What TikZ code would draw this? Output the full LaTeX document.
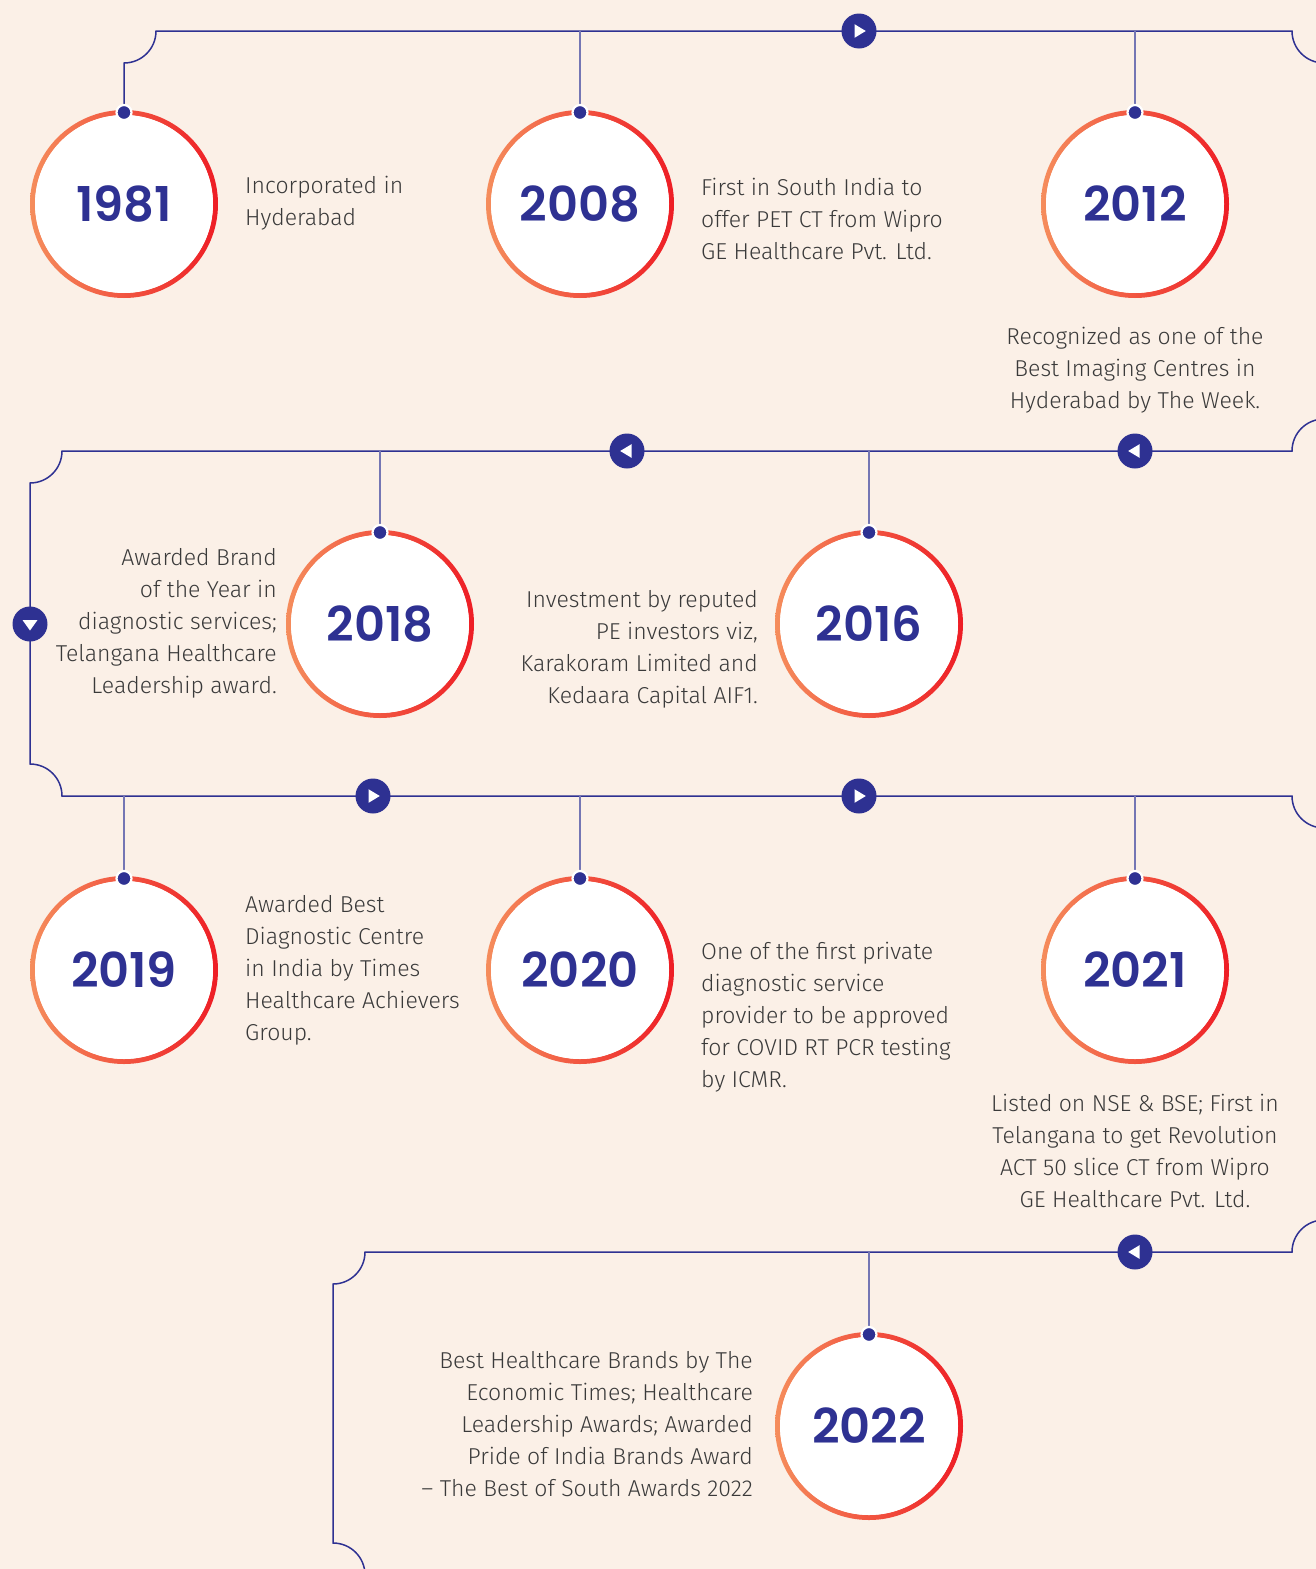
\documentclass[tikz,border=0pt]{standalone}
\usepackage{fontspec}
\setmainfont{Fira Sans Light}
\newfontfamily\yearfont{Poppins SemiBold}
\definecolor{bg}{HTML}{FBF0E7}
\definecolor{navy}{HTML}{2E3192}
\definecolor{stemc}{HTML}{7476B4}
\definecolor{ringL}{HTML}{F58D5C}
\definecolor{ringR}{HTML}{EE1D25}
\definecolor{txt}{HTML}{3A3A3A}
\tikzset{
  mainline/.style={draw=navy, line width=1.5pt},
  stemline/.style={draw=stemc, line width=1.4pt},
  yearnode/.style={circle, fill=white, minimum size=178pt, inner sep=0pt,
    text=navy, font=\yearfont\fontsize{48}{48}\selectfont},
  ringdot/.style={circle, fill=navy, draw=white, line width=2.2pt, minimum size=15pt, inner sep=0pt},
  btn/.style={circle, fill=navy, minimum size=35pt, inner sep=0pt},
  desc/.style={inner sep=0pt, text=txt, font=\fontsize{23}{32}\selectfont},
}
\newcommand\yearcirc[4]{%
  \shade[left color=ringL, right color=ringR, even odd rule]
    (#2,#3) circle[radius=94pt] (#2,#3) circle[radius=89pt];
  \node[yearnode] (#1) at (#2,#3) {#4};
}
\begin{document}
\begin{tikzpicture}[x=1pt,y=-1pt]
\fill[bg] (0,0) rectangle (1316,1569);
\useasboundingbox (0,0) rectangle (1316,1569);

% year circles
\yearcirc{y1981}{124}{204}{1981}
\yearcirc{y2008}{580}{204}{2008}
\yearcirc{y2012}{1135}{204}{2012}
\yearcirc{y2018}{380}{624}{2018}
\yearcirc{y2016}{869}{624}{2016}
\yearcirc{y2019}{124}{970}{2019}
\yearcirc{y2020}{580}{970}{2020}
\yearcirc{y2021}{1135}{970}{2021}
\yearcirc{y2022}{869}{1426}{2022}

% dots on the rings
\foreach \n in {1981,2008,2012,2018,2016,2019,2020,2021,2022}
  \coordinate (p\n) at ([yshift=91.5pt]y\n.center);

% coordinates on the main line
\coordinate (c1) at (124,63);
\coordinate (c2) at (156,31);
\coordinate (c3) at (1292,31);
\coordinate (c4) at (1324,63);
\coordinate (c5) at (1324,419);
\coordinate (c6) at (1292,451);
\coordinate (c7) at (62,451);
\coordinate (c8) at (30,483);
\coordinate (c9) at (30,764);
\coordinate (c10) at (62,796);
\coordinate (c11) at (1292,796);
\coordinate (c12) at (1324,828);
\coordinate (c13) at (1324,1220);
\coordinate (c14) at (1292,1252);
\coordinate (c15) at (365,1252);
\coordinate (c16) at (333,1284);
\coordinate (c17) at (333,1543);
\coordinate (c18) at (365,1575);

% main line
\draw[mainline] (p1981) -- (c1) .. controls (141.7,63) and (156,48.7) .. (c2)
  -- (c3) .. controls (1292,48.7) and (1306.3,63) .. (c4)
  -- (c5) .. controls (1306.3,419) and (1292,433.3) .. (c6)
  -- (c7) .. controls (62,468.7) and (47.7,483) .. (c8)
  -- (c9) .. controls (47.7,764) and (62,778.3) .. (c10)
  -- (c11) .. controls (1292,813.7) and (1306.3,828) .. (c12)
  -- (c13) .. controls (1306.3,1220) and (1292,1234.3) .. (c14)
  -- (c15) .. controls (365,1269.7) and (350.7,1284) .. (c16)
  -- (c17) .. controls (350.7,1543) and (365,1557.3) .. (c18);

% stems
\coordinate (s2008) at (580,31);
\coordinate (s2012) at (1135,31);
\coordinate (s2018) at (380,451);
\coordinate (s2016) at (869,451);
\coordinate (s2019) at (124,796);
\coordinate (s2020) at (580,796);
\coordinate (s2021) at (1135,796);
\coordinate (s2022) at (869,1252);
\foreach \n in {2008,2012,2018,2016,2019,2020,2021,2022}
  \draw[stemline] (s\n) -- (p\n);

\foreach \n in {1981,2008,2012,2018,2016,2019,2020,2021,2022}
  \node[ringdot] (d\n) at (p\n) {};

% direction buttons
\node[btn] (b1) at (859,31) {};
\node[btn] (b2) at (1135,451) {};
\node[btn] (b3) at (627,451) {};
\node[btn] (b4) at (30,624) {};
\node[btn] (b5) at (373,796) {};
\node[btn] (b6) at (859,796) {};
\node[btn] (b7) at (1135,1252) {};
\foreach \b in {b1,b5,b6}
  \fill[white] ([shift={(-4.5,-6.8)}]\b.center) -- ([shift={(-4.5,6.8)}]\b.center) -- ([shift={(6.8,0)}]\b.center) -- cycle;
\foreach \b in {b2,b3,b7}
  \fill[white] ([shift={(4.5,-6.8)}]\b.center) -- ([shift={(4.5,6.8)}]\b.center) -- ([shift={(-6.8,0)}]\b.center) -- cycle;
\fill[white] ([shift={(-7.5,-4)}]b4.center) -- ([shift={(7.5,-4)}]b4.center) -- ([shift={(0,6.5)}]b4.center) -- cycle;

% descriptions
\node[desc, anchor=west, align=left] (t1981) at (245,203) {Incorporated in\\Hyderabad};
\node[desc, anchor=west, align=left] (t2008) at (701,219) {First in South India to\\offer PET CT from Wipro\\GE Healthcare Pvt. Ltd.};
\node[desc, align=center] (t2012) at (1135,370) {Recognized as one of the\\Best Imaging Centres in\\Hyderabad by The Week.};
\node[desc, anchor=east, align=right] (t2018) at (277,623) {Awarded Brand\\of the Year in\\diagnostic services;\\Telangana Healthcare\\Leadership award.};
\node[desc, anchor=east, align=right] (t2016) at (758,649) {Investment by reputed\\PE investors viz,\\Karakoram Limited and\\Kedaara Capital AIF1.};
\node[desc, anchor=west, align=left] (t2019) at (245,970) {Awarded Best\\Diagnostic Centre\\in India by Times\\Healthcare Achievers\\Group.};
\node[desc, anchor=west, align=left] (t2020) at (701,1017) {One of the first private\\diagnostic service\\provider to be approved\\for COVID RT PCR testing\\by ICMR.};
\node[desc, align=center] (t2021) at (1135,1151) {Listed on NSE \& BSE; First in\\Telangana to get Revolution\\ACT 50 slice CT from Wipro\\GE Healthcare Pvt. Ltd.};
\node[desc, anchor=east, align=right] (t2022) at (753,1424) {Best Healthcare Brands by The\\Economic Times; Healthcare\\Leadership Awards; Awarded\\Pride of India Brands Award\\-- The Best of South Awards 2022};
\end{tikzpicture}
\end{document}
